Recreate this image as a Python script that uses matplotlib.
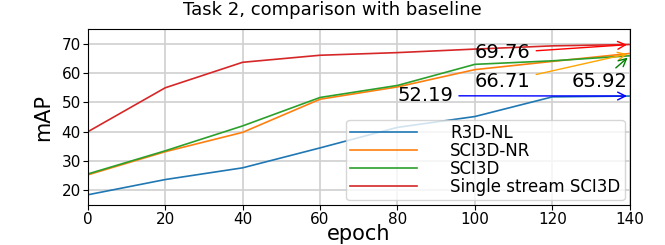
import matplotlib
matplotlib.use('Agg')
import matplotlib.pyplot as plt

# data
epochs = [0, 20, 40, 60, 80, 100, 120, 140]
r3d_nl = [18.5, 23.7, 27.7, 34.5, 41.5, 45.2, 51.9, 52.19]
sci3d_nr = [25.3, 33.2, 39.8, 51.1, 55.3, 61.2, 64.0, 66.71]
sci3d = [25.6, 33.5, 42.0, 51.7, 55.8, 63.0, 64.2, 65.92]
single_sci3d = [40.0, 55.0, 63.7, 66.1, 67.0, 68.2, 69.3, 69.76]

labels = ['R3D-NL', 'SCI3D-NR', 'SCI3D', 'Single stream SCI3D']

# final values annotated at the right edge
final_vals = [69.76, 66.71, 65.92, 52.19]
final_text_pos = [(100, 65.0), (100, 55.1), (125, 55.1), (80, 50.4)]
arrow_colors = ['red', 'orange', 'green', 'blue']

fig = plt.figure(figsize=(6.65, 2.45), dpi=100)
ax = fig.add_axes([0.132, 0.163, 0.815, 0.718])

for ys, lab in zip([r3d_nl, sci3d_nr, sci3d, single_sci3d], labels):
    ax.plot(epochs, ys, label=lab, linewidth=1.2)

for val, pos, col in zip(final_vals, final_text_pos, arrow_colors):
    ax.annotate(f'{val:.2f}', xy=(140, val), xytext=pos, fontsize=14,
                arrowprops=dict(arrowstyle='->', color=col, lw=1.0))

ax.set_xlim(0, 140)
ax.set_ylim(15, 75)
ax.set_xticks(range(0, 141, 20))
ax.set_yticks(range(20, 71, 10))
ax.tick_params(labelsize=11, pad=1.5)
ax.grid(True, color='#d0d0d0', linewidth=1.2)
ax.set_axisbelow(True)

ax.set_xlabel('epoch', fontsize=15, labelpad=-2)
ax.set_ylabel('mAP', fontsize=15, labelpad=6)
fig.suptitle('Task 2, comparison with baseline', fontsize=13, x=0.5, y=0.995)

ax.legend(loc='lower right', fontsize=12, handlelength=4, handletextpad=2,
          labelspacing=0.0, borderpad=0.25, borderaxespad=0.3)

plt.savefig('out.png', dpi=100)
